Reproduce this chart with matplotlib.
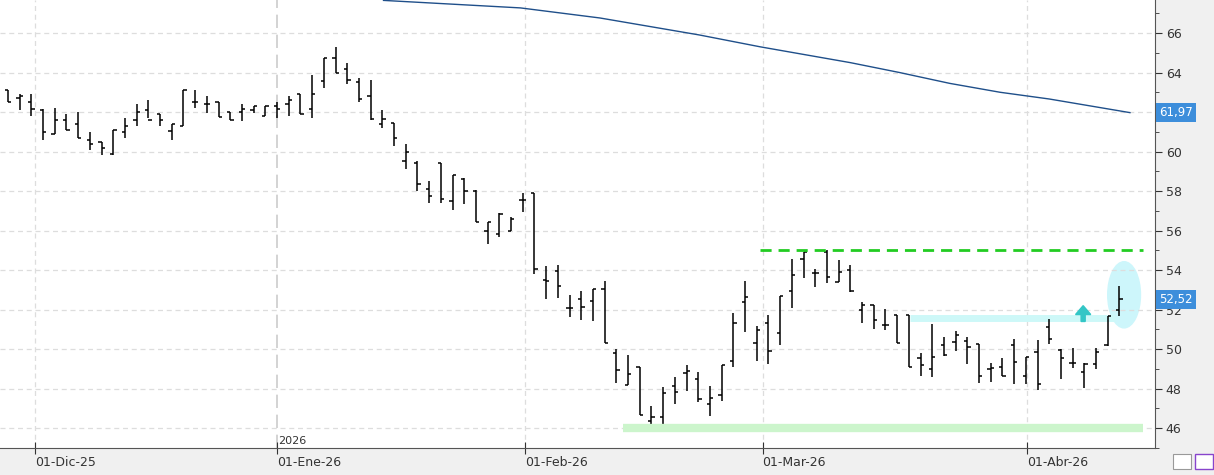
import matplotlib as mpl

mpl.use("Agg")

import matplotlib.pyplot as plt
from matplotlib.patches import Ellipse, FancyArrow, Rectangle
import numpy as np

# OHLC, one row per session
opens = [63.1, 62.7, 62.5, 62.1, 60.9, 61.6, 61.4, 60.6, 60.5, 59.9, 61.0, 61.6, 62.1, 61.9, 61.05,
         61.3, 62.5, 62.4, 62.5, 62.0, 62.0, 62.1, 61.8, 62.3, 62.4, 62.9, 62.15, 63.55, 64.75, 64.2,
         63.5, 62.8, 61.4, 61.45, 59.5,
         59.4, 58.1, 59.4, 57.5, 58.6, 58.0, 56.0, 55.85, 56.0, 57.55, 57.9, 53.5, 53.95, 52.1, 52.55,
         52.45, 53.05, 49.8, 48.2, 49.1, 46.35, 46.55, 48.15, 48.8, 48.5, 47.2, 47.7, 49.4, 52.4, 50.3,
         51.3, 50.8,
         52.95, 54.55, 53.85, 54.9, 53.4, 54.0, 52.0, 52.25, 51.2, 51.75, 51.75, 49.55, 49.0, 50.2,
         50.35, 50.4, 50.25, 49.0, 49.1, 50.2, 48.65, 49.85, 51.1, 49.95, 49.3, 48.85, 49.25, 50.2, 52.0]
highs = [63.1, 62.9, 62.9, 62.15, 62.2, 61.9, 62.0, 61.0, 60.5, 61.1, 61.7, 62.4, 62.6, 61.9, 61.4,
         63.1, 63.1, 62.8, 62.5, 62.0, 62.4, 62.3, 62.3, 62.5, 62.8, 62.9, 63.85, 64.75, 65.3, 64.5,
         63.7, 63.6, 62.1, 61.45, 60.4,
         59.5, 58.5, 59.4, 58.8, 58.65, 58.05, 56.45, 56.9, 56.7, 57.9, 57.9, 54.2, 54.25, 52.75, 52.95,
         53.05, 53.45, 50.0, 49.7, 49.1, 47.1, 48.1, 48.6, 49.2, 48.85, 48.15, 49.2, 51.85, 53.45, 51.15,
         51.75, 52.7,
         54.55, 54.9, 54.05, 55.0, 54.5, 54.25, 52.4, 52.25, 52.05, 51.75, 51.75, 49.8, 51.25, 50.6,
         50.9, 50.6, 50.25, 49.3, 49.55, 50.5, 49.6, 50.45, 51.5, 50.0, 50.05, 49.3, 50.05, 51.7, 53.2]
lows = [62.5, 62.1, 61.8, 60.6, 60.9, 61.1, 60.7, 60.1, 59.8, 59.8, 60.7, 61.3, 61.7, 61.3, 60.6,
        61.3, 62.2, 61.95, 61.75, 61.6, 61.55, 61.95, 61.8, 61.7, 61.8, 61.9, 61.7, 63.2, 64.0, 63.4,
        62.5, 61.6, 61.2, 60.3, 59.1,
        58.0, 57.4, 57.4, 57.05, 57.35, 56.45, 55.3, 55.7, 56.0, 56.95, 53.8, 52.55, 52.6, 51.65, 51.45,
        51.4, 50.3, 48.3, 48.2, 46.65, 46.05, 46.15, 47.2, 47.9, 47.3, 46.6, 47.4, 49.1, 50.85, 49.4,
        49.25, 50.2,
        52.1, 53.6, 53.15, 53.35, 53.4, 52.9, 51.3, 51.0, 50.95, 50.3, 49.1, 48.65, 48.6, 49.65,
        49.9, 49.25, 48.3, 48.35, 48.65, 48.25, 48.25, 47.95, 50.25, 48.5, 49.05, 48.05, 49.0, 50.15, 51.7]
closes = [62.5, 62.8, 62.15, 61.0, 61.6, 61.1, 60.7, 60.4, 60.2, 61.1, 61.3, 62.0, 61.6, 61.6, 61.4,
          63.1, 62.5, 62.4, 61.75, 61.6, 62.15, 62.3, 62.3, 62.15, 62.6, 61.9, 62.9, 64.75, 64.0, 63.6,
          62.65, 61.65, 61.65, 60.7, 60.0,
          58.35, 57.75, 57.6, 58.8, 58.0, 56.45, 56.45, 56.85, 56.6, 57.55, 54.05, 53.45, 53.2, 52.1, 52.15,
          53.05, 50.3, 48.95, 48.75, 46.65, 46.55, 47.8, 47.85, 48.9, 47.5, 47.55, 49.2, 51.3, 52.65, 50.95,
          49.9, 52.7,
          53.75, 54.9, 53.85, 53.65, 53.9, 52.95, 52.25, 51.45, 51.2, 50.3, 49.1, 49.2, 49.6, 49.7,
          50.7, 50.1, 48.65, 49.05, 48.65, 49.35, 49.6, 48.25, 50.5, 49.55, 49.3, 49.25, 49.85, 51.7, 52.55]

# 200-session average, sampled points (bar index, value)
ma_idx = [32.1, 43.8, 50.6, 59.1, 64.3, 72.0, 76.2, 80.5, 84.8, 89.0, 95.9]
ma_val = [67.65, 67.27, 66.76, 65.9, 65.3, 64.5, 64.0, 63.45, 63.0, 62.66, 61.97]

date_labels = ["01-Dic-25", "01-Ene-26", "01-Feb-26", "01-Mar-26", "01-Abr-26"]
date_pos = [2.3, 23.0, 44.2, 64.5, 87.1]
yticks = [46, 48, 50, 52, 54, 56, 58, 60, 62, 64, 66]

resist = 55.0
support = 46.0
breakout = 51.6
last_ma = 61.97
last_close = 52.52

fig = plt.figure(figsize=(12.14, 4.75), dpi=100)
fig.patch.set_facecolor("#f0f0f0")
ax = fig.add_axes([0.0, 0.057, 0.951, 0.943])
ax.set_facecolor("white")

x = np.arange(len(opens))
w = 0.28
for i in x:
    ax.vlines(i, lows[i], highs[i], color="black", lw=1.1)
    ax.hlines(opens[i], i - w, i, color="black", lw=1.1)
    ax.hlines(closes[i], i, i + w, color="black", lw=1.1)

ax.plot(ma_idx, ma_val, color="#1f4f8a", lw=1.0)

ax.hlines(resist, 64.3, 97.0, color="#22cc22", lw=2.0, linestyles=(0, (4, 2.5)))
ax.hlines(support, 52.6, 97.0, color="#ccf5cc", lw=6)
ax.hlines(breakout, 77.1, 94.6, color="#cdf8f8", lw=5, zorder=1)
ax.add_patch(Ellipse((95.4, 52.75), 2.8, 3.35, color="#cdf6fb", zorder=0))
ax.add_patch(FancyArrow(91.9, 51.4, 0, 0.35, width=0.35, head_width=1.3,
                        head_length=0.45, color="#33c6c6", zorder=3))

ax.set_xlim(-0.68, 98.0)
ax.set_ylim(45.0, 67.67)

ax.set_yticks(yticks)
ax.set_yticks(np.arange(45, 68, 1), minor=True)
ax.yaxis.tick_right()
ax.tick_params(axis="y", which="major", length=5, labelsize=9, colors="#333333", pad=3)
ax.tick_params(axis="y", which="minor", length=3, colors="#333333")
ax.grid(axis="y", color="#dddddd", ls=(0, (4, 3)), lw=0.9)

ax.set_xticks(date_pos)
ax.set_xticklabels(date_labels, fontsize=9, ha="left")
ax.tick_params(axis="x", length=8, direction="inout", colors="#333333", pad=2)
for p in date_pos:
    if p == date_pos[1]:
        ax.axvline(p, color="#cccccc", lw=1.2, ls=(0, (8, 4)), zorder=0)
    else:
        ax.axvline(p, color="#dddddd", lw=0.9, ls=(0, (4, 3)), zorder=0)
ax.text(date_pos[1] + 0.1, 45.12, "2026", fontsize=8, color="#333333", ha="left", va="bottom")

for s in ["top", "left"]:
    ax.spines[s].set_visible(False)
ax.spines["right"].set_color("#555555")
ax.spines["bottom"].set_color("#555555")

ax.text(1.004, (last_ma - 45) / 22.67, f"{last_ma:.2f}".replace(".", ","), transform=ax.transAxes,
        fontsize=8.5, color="white", va="center", ha="left",
        bbox=dict(boxstyle="square,pad=0.25", fc="#3d8edb", ec="none"))
ax.text(1.004, (last_close - 45) / 22.67, f"{last_close:.2f}".replace(".", ","), transform=ax.transAxes,
        fontsize=8.5, color="white", va="center", ha="left",
        bbox=dict(boxstyle="square,pad=0.25", fc="#3d8edb", ec="none"))

fig.patches.append(Rectangle((0.966, 0.012), 0.015, 0.032, transform=fig.transFigure,
                             fc="white", ec="#999999", lw=0.8))
fig.patches.append(Rectangle((0.984, 0.012), 0.015, 0.032, transform=fig.transFigure,
                             fc="white", ec="#8844cc", lw=1.0))

fig.savefig("out.png", dpi=100, facecolor=fig.get_facecolor())
